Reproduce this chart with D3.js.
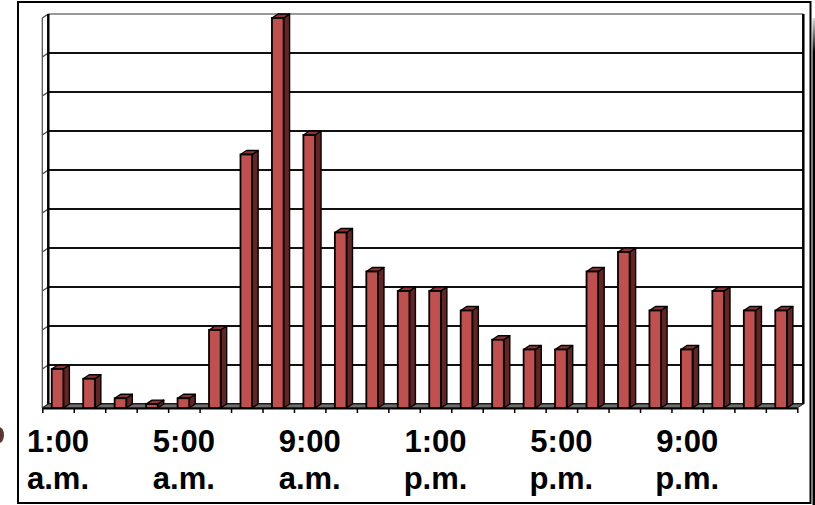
<!DOCTYPE html>
<html>
<head>
<meta charset="utf-8">
<script src="https://cdn.jsdelivr.net/npm/d3@7"></script>
<style>
  html, body { margin: 0; padding: 0; background: #fff; }
  svg { display: block; }
  text { font-family: "Liberation Sans", Arial, sans-serif; font-weight: bold; }
</style>
</head>
<body>
<svg id="chart" width="815" height="505"></svg>
<script>
// Hourly counts, one bar per hour starting at 1:00 a.m.
const hours = ["1am","2am","3am","4am","5am","6am","7am","8am","9am","10am","11am","12pm",
               "1pm","2pm","3pm","4pm","5pm","6pm","7pm","8pm","9pm","10pm","11pm","12am"];
const counts = [1.0, 0.75, 0.25, 0.1, 0.25, 2.0, 6.5, 10, 7.0, 4.5, 3.5, 3.0,
                3.0, 2.5, 1.75, 1.5, 1.5, 3.5, 4.0, 2.5, 1.5, 3.0, 2.5, 2.5];
// Category labels shown every fourth hour
const labelHours = ["1am","5am","9am","1pm","5pm","9pm"];
const labelTimes = ["1:00","5:00","9:00","1:00","5:00","9:00"];
const labelPeriods = ["a.m.","a.m.","a.m.","p.m.","p.m.","p.m."];
const gridValues = d3.range(0, 11);

const svg = d3.select("#chart");

// 3D projection: back wall is shifted right/up from the front plane
const depthX = 6, depthY = -4;
const frontLeft = 42.3, frontRight = 797.3;

const x = d3.scaleBand().domain(hours).range([frontLeft, frontRight]).paddingInner(0).paddingOuter(0);
const xEdge = d3.scaleLinear().domain([0, hours.length]).range([frontLeft, frontRight]);
// value scale on the back wall
const yBack = d3.scaleLinear().domain([0, 10]).range([404, 14]);
const yFront = v => yBack(v) - depthY;

// outer frame shadow on the right
const defs = svg.append("defs");
const grad = defs.append("linearGradient").attr("id", "edgeShade")
  .attr("x1", 0).attr("y1", 0).attr("x2", 0).attr("y2", 1);
grad.append("stop").attr("offset", "0").attr("stop-color", "#ddd");
grad.append("stop").attr("offset", "0.07").attr("stop-color", "#000");
grad.append("stop").attr("offset", "1").attr("stop-color", "#000");
svg.append("rect").attr("x", 812.5).attr("y", 18).attr("width", 2.5).attr("height", 487)
  .attr("fill", "url(#edgeShade)");

// outer frame
svg.append("rect").attr("x", 18).attr("y", 2).attr("width", 792.5).attr("height", 501)
  .attr("fill", "#fff").attr("stroke", "#000").attr("stroke-width", 2);

// small dark mark at the far left edge
svg.append("ellipse").attr("cx", -1).attr("cy", 435).attr("rx", 5).attr("ry", 8)
  .attr("fill", "#4a2018").attr("opacity", 0.9);

const backL = frontLeft + depthX, backR = frontRight + depthX;

// back wall gridlines
const grid = svg.append("g");
grid.selectAll("line.h").data(gridValues).join("line")
  .attr("class", "h")
  .attr("x1", backL).attr("x2", backR)
  .attr("y1", d => yBack(d)).attr("y2", d => yBack(d))
  .attr("stroke", d => d === 10 ? "#777" : "#111")
  .attr("stroke-width", d => d === 10 ? 1.5 : 2);
// gridlines running across the left side wall
grid.selectAll("line.s").data(gridValues).join("line")
  .attr("class", "s")
  .attr("x1", frontLeft).attr("y1", d => yFront(d))
  .attr("x2", backL).attr("y2", d => yBack(d))
  .attr("stroke", "#444").attr("stroke-width", 1.2);
// side wall front edge
grid.append("line").attr("x1", frontLeft).attr("x2", frontLeft)
  .attr("y1", yFront(10)).attr("y2", yFront(0))
  .attr("stroke", "#555").attr("stroke-width", 1.3);
// back wall left and right edges
grid.append("line").attr("x1", backL).attr("x2", backL)
  .attr("y1", yBack(10)).attr("y2", yBack(0))
  .attr("stroke", "#000").attr("stroke-width", 2.5);
grid.append("line").attr("x1", backR).attr("x2", backR)
  .attr("y1", yBack(10)).attr("y2", yBack(0))
  .attr("stroke", "#000").attr("stroke-width", 2.5);

// floor
svg.append("path")
  .attr("d", `M${frontLeft},${yFront(0)}L${frontRight},${yFront(0)}L${backR},${yBack(0)}L${backL},${yBack(0)}Z`)
  .attr("fill", "#6e6e6e").attr("stroke", "#222").attr("stroke-width", 1);

// tick marks along the front edge of the floor
const axis = d3.axisBottom(xEdge).tickValues(d3.range(hours.length + 1)).tickFormat("").tickSize(5).tickSizeOuter(0);
const axisG = svg.append("g").attr("transform", `translate(0,${yFront(0)})`).call(axis);
axisG.select(".domain").attr("stroke", "#000").attr("stroke-width", 2);
axisG.selectAll(".tick line").attr("stroke", "#000").attr("stroke-width", 1.5);

// 3D bars
const bw = x.bandwidth();
const faceW = bw * 0.37, faceOff = bw * 0.3;
const bars = svg.append("g").selectAll("g.bar")
  .data(hours.map((h, i) => ({ h, v: counts[i] })))
  .join("g").attr("class", "bar");

const x0 = d => x(d.h) + faceOff;
// side face
bars.append("path")
  .attr("d", d => {
    const a = x0(d) + faceW;
    return `M${a},${yFront(d.v)}L${a + depthX},${yBack(d.v)}L${a + depthX},${yBack(0)}L${a},${yFront(0)}Z`;
  })
  .attr("fill", "#632523").attr("stroke", "#000").attr("stroke-width", 1.4).attr("stroke-linejoin", "round");
// top face
bars.append("path")
  .attr("d", d => {
    const a = x0(d);
    return `M${a},${yFront(d.v)}L${a + faceW},${yFront(d.v)}L${a + faceW + depthX},${yBack(d.v)}L${a + depthX},${yBack(d.v)}Z`;
  })
  .attr("fill", "#8f3431").attr("stroke", "#000").attr("stroke-width", 1.4).attr("stroke-linejoin", "round");
// front face
bars.append("rect")
  .attr("x", d => x0(d)).attr("width", faceW)
  .attr("y", d => yFront(d.v)).attr("height", d => yFront(0) - yFront(d.v))
  .attr("fill", "#c0504d").attr("stroke", "#000").attr("stroke-width", 1.8);

// category labels
const labels = svg.append("g").selectAll("g").data(labelHours).join("g")
  .attr("transform", h => `translate(${x(h) + bw / 2},0)`);
labels.append("text").attr("y", 452).attr("text-anchor", "middle")
  .attr("font-size", 31).text((h, i) => labelTimes[i]);
labels.append("text").attr("y", 489).attr("text-anchor", "middle")
  .attr("font-size", 31).text((h, i) => labelPeriods[i]);
</script>
</body>
</html>
